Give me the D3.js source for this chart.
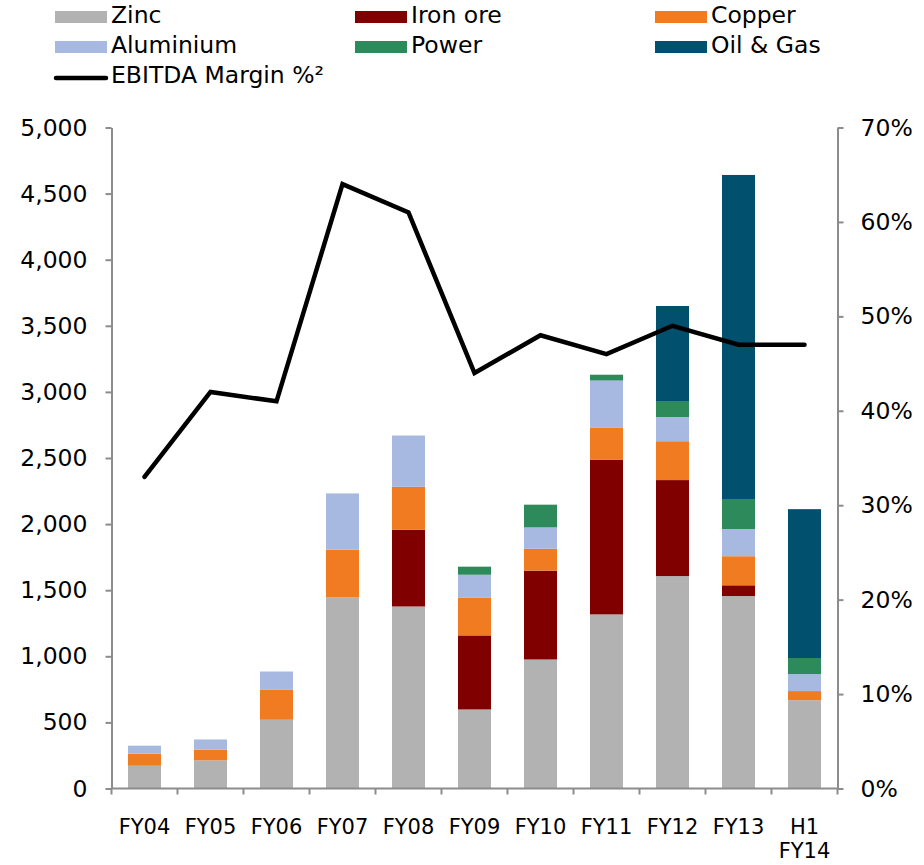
<!DOCTYPE html>
<html>
<head>
<meta charset="utf-8">
<script src="https://cdnjs.cloudflare.com/ajax/libs/d3/7.8.5/d3.min.js"></script>
<style>
body { margin: 0; background: #fff; }
svg text { font-family: "DejaVu Sans", Verdana, sans-serif; fill: #000; }
</style>
</head>
<body>
<svg id="chart" width="924" height="865"></svg>
<script>
var categories = ['FY04', 'FY05', 'FY06', 'FY07', 'FY08', 'FY09', 'FY10', 'FY11', 'FY12', 'FY13', 'H1 FY14'];

// segment values (stacked bottom to top)
var zinc      = [172, 213, 520, 1445, 1377, 598, 976, 1317, 1607, 1456, 668];
var ironOre   = [0, 0, 0, 0, 581, 560, 672, 1171, 726, 81, 0];
var copper    = [91, 81, 229, 361, 324, 287, 165, 243, 294, 220, 69];
var aluminium = [61, 77, 136, 426, 388, 172, 162, 355, 183, 206, 129];
var power     = [0, 0, 0, 0, 0, 61, 172, 44, 121, 227, 121];
var oilGas    = [0, 0, 0, 0, 0, 0, 0, 0, 719, 2451, 1126];

var ebitdaMargin = [33, 42, 41, 64, 61, 44, 48, 46, 49, 47, 47];

var seriesNames = ['Zinc', 'Iron ore', 'Copper', 'Aluminium', 'Power', 'Oil & Gas'];
var seriesColors = ['#b2b2b2', '#800000', '#f17b21', '#a7b9e0', '#2d8a5b', '#01506e'];
var lineName = 'EBITDA Margin %\u00b2';

var leftTicks = [0, 500, 1000, 1500, 2000, 2500, 3000, 3500, 4000, 4500, 5000];
var rightTicks = [0, 10, 20, 30, 40, 50, 60, 70];

var AXIS = '#8c8c8c';

var svg = d3.select('#chart');

var x = d3.scaleBand()
	.domain(categories)
	.range([111.5, 837.5])
	.paddingInner(0.5)
	.paddingOuter(0.25);

var y = d3.scaleLinear().domain([0, 5000]).range([788.5, 127.5]);
var y2 = d3.scaleLinear().domain([0, 70]).range([788.5, 127.5]);

// build rows for the stack
var seriesData = [zinc, ironOre, copper, aluminium, power, oilGas];
var rows = categories.map(function(c, i){
	var row = {cat: c};
	for (var s = 0; s < seriesNames.length; s++){
		row[seriesNames[s]] = seriesData[s][i];
	}
	return row;
});

var stacked = d3.stack().keys(seriesNames)(rows);

svg.append('g').selectAll('g')
	.data(stacked)
	.enter().append('g')
	.attr('fill', function(d, i){ return seriesColors[i]; })
	.selectAll('rect')
	.data(function(d){ return d; })
	.enter().append('rect')
	.attr('x', function(d){ return x(d.data.cat); })
	.attr('width', x.bandwidth())
	.attr('y', function(d){ return y(d[1]); })
	.attr('height', function(d){ return y(d[0]) - y(d[1]); });

// left axis
var gLeft = svg.append('g')
	.attr('transform', 'translate(' + x.range()[0] + ',0)')
	.call(d3.axisLeft(y).tickValues(leftTicks).tickSize(6).tickSizeOuter(0).tickPadding(18).tickFormat(d3.format(',')));

// right axis
var gRight = svg.append('g')
	.attr('transform', 'translate(' + x.range()[1] + ',0)')
	.call(d3.axisRight(y2).tickValues(rightTicks).tickSize(6).tickSizeOuter(0).tickPadding(17).tickFormat(function(d){ return d + '%'; }));

[gLeft, gRight].forEach(function(g){
	g.selectAll('path, line').attr('stroke', AXIS).attr('stroke-width', 2);
	g.selectAll('text').attr('font-size', 23.5).attr('font-family', '"DejaVu Sans", Verdana, sans-serif').attr('fill', '#000');
});

// bottom axis with ticks between categories
var gBottom = svg.append('g');
gBottom.append('line')
	.attr('x1', x.range()[0]).attr('x2', x.range()[1])
	.attr('y1', y(0)).attr('y2', y(0))
	.attr('stroke', AXIS).attr('stroke-width', 2);

var edges = categories.map(function(c){ return x(c) - (x.step() - x.bandwidth()) / 2; });
edges.push(x.range()[1]);
gBottom.selectAll('line.tick')
	.data(edges)
	.enter().append('line')
	.attr('class', 'tick')
	.attr('x1', function(d){ return d; }).attr('x2', function(d){ return d; })
	.attr('y1', y(0)).attr('y2', y(0) + 6)
	.attr('stroke', AXIS).attr('stroke-width', 2);

var xLabels = gBottom.selectAll('text')
	.data(categories)
	.enter().append('text')
	.attr('text-anchor', 'middle')
	.attr('font-size', 21)
	.attr('y', 834);

xLabels.each(function(c){
	var parts = c.split(' ');
	var t = d3.select(this);
	parts.forEach(function(p, k){
		t.append('tspan')
			.attr('x', x(c) + x.bandwidth() / 2)
			.attr('dy', k == 0 ? 0 : 24)
			.text(p);
	});
});

// EBITDA margin line
var line = d3.line()
	.x(function(d, i){ return x(categories[i]) + x.bandwidth() / 2; })
	.y(function(d){ return y2(d); });

svg.append('path')
	.datum(ebitdaMargin)
	.attr('d', line)
	.attr('fill', 'none')
	.attr('stroke', '#000')
	.attr('stroke-width', 4.5)
	.attr('stroke-linejoin', 'miter')
	.attr('stroke-linecap', 'round');

// legend, three per row
var legend = svg.append('g');
var items = seriesNames.concat([lineName]);

var li = legend.selectAll('g')
	.data(items)
	.enter().append('g')
	.attr('transform', function(d, i){
		return 'translate(' + (55 + (i % 3) * 300) + ',' + (23 + Math.floor(i / 3) * 30) + ')';
	});

li.each(function(d, i){
	var g = d3.select(this);
	if (i < seriesNames.length){
		g.append('rect')
			.attr('x', 0).attr('y', -12)
			.attr('width', 52).attr('height', 12)
			.attr('fill', seriesColors[i]);
	} else {
		g.append('line')
			.attr('x1', 1).attr('x2', 51)
			.attr('y1', -5).attr('y2', -5)
			.attr('stroke', '#000').attr('stroke-width', 4.5)
			.attr('stroke-linecap', 'round');
	}
	g.append('text')
		.attr('x', 56)
		.attr('font-size', 23.5)
		.text(d);
});
</script>
</body>
</html>
